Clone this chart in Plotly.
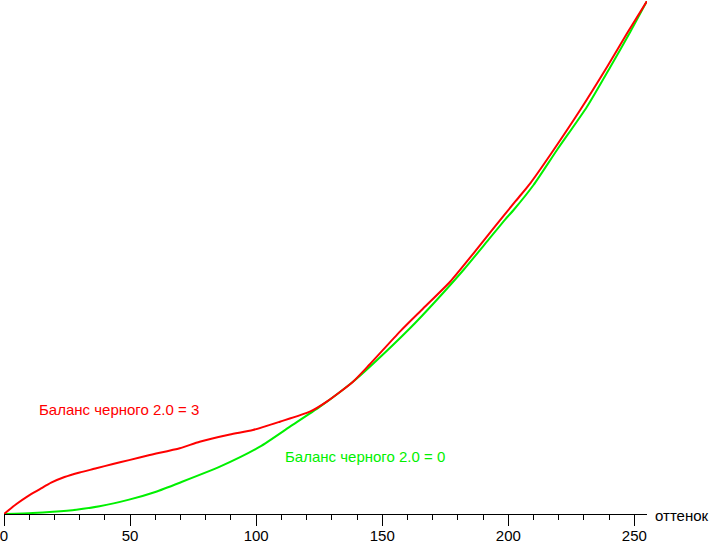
import plotly.graph_objects as go

# Red curve: "Баланс черного 2.0 = 3"
red_x = [0, 4.8, 9.5, 14.1, 18.7, 24.0, 30.0, 36.6, 43.2, 49.6, 57.8, 69.7, 77.6, 89.6,
         98.7, 109.4, 121.3, 128.0, 138.4, 145.1, 157.1, 166.3, 176.9, 186.2, 194.1, 202.7,
         208.7, 216.6, 228.5, 239.2, 247.1, 255]
red_y = [0, 1.9, 3.5, 4.8, 6.1, 7.2, 8.1, 8.9, 9.75, 10.5, 11.5, 12.81, 14.09, 15.5,
         16.37, 17.99, 19.94, 21.9, 25.79, 29.2, 35.6, 40.1, 45.28, 50.82, 55.69, 60.88,
         64.46, 69.98, 78.75, 87.19, 93.7, 100]

# Green curve: "Баланс черного 2.0 = 0"
green_x = [0, 11.4, 19.4, 28.7, 37.9, 49.6, 60.0, 69.7, 85.6, 101.5, 113.4, 125.3, 138.4, 145.1,
           161.0, 171.6, 182.2, 191.5, 198.8, 202.1, 210.0, 219.3, 231.2, 240.5, 248.4, 255]
green_y = [0, 0.2, 0.45, 0.85, 1.5, 2.8, 4.3, 6.1, 9.22, 13.12, 17.02, 20.92, 25.79, 28.71,
           36.2, 41.72, 47.56, 53.08, 57.45, 59.26, 64.13, 70.96, 79.4, 87.2, 94.0, 100]

tick_vals = [0, 50, 100, 150, 200, 250]
tick_text = ["0", "50", "100", "150", "200", "250"]

FONT = "Arial, Liberation Sans, sans-serif"
GREEN = "#00f000"
RED = "#ff0000"

fig = go.Figure()
fig.add_trace(go.Scatter(x=green_x, y=green_y, mode="lines",
                         line=dict(color=GREEN, width=2, shape="spline", smoothing=0.6),
                         showlegend=False, hoverinfo="skip"))
fig.add_trace(go.Scatter(x=red_x, y=red_y, mode="lines",
                         line=dict(color=RED, width=2, shape="spline", smoothing=0.6),
                         showlegend=False, hoverinfo="skip"))

fig.add_annotation(x=13.1, y=20.3, xref="x", yref="y", text="Баланс черного 2.0 = 3",
                   showarrow=False, xanchor="left", yanchor="middle",
                   font=dict(family=FONT, size=15, color=RED))
fig.add_annotation(x=110.5, y=11.3, xref="x", yref="y", text="Баланс черного 2.0 = 0",
                   showarrow=False, xanchor="left", yanchor="middle",
                   font=dict(family=FONT, size=15, color=GREEN))
fig.add_annotation(x=1, y=0, xref="paper", yref="paper", text="оттенок",
                   showarrow=False, xanchor="left", yanchor="middle", xshift=6, yshift=-1,
                   font=dict(family=FONT, size=15, color="#000000"))

fig.update_layout(
    width=712, height=542,
    margin=dict(l=4, r=65, t=1, b=28, autoexpand=False),
    paper_bgcolor="white", plot_bgcolor="white",
    font=dict(family=FONT, size=15, color="black"),
    xaxis=dict(range=[0, 255], showgrid=False, zeroline=False, showline=True,
               linecolor="black", linewidth=1, ticks="outside", ticklen=11,
               tickcolor="black", tickwidth=1, tickvals=tick_vals, ticktext=tick_text,
               automargin=False, ticklabeloverflow="allow", ticklabelstandoff=-3,
               tickfont=dict(family=FONT, size=15, color="black"),
               minor=dict(dtick=10, tick0=0, ticks="outside", ticklen=5,
                          tickcolor="black", tickwidth=1, showgrid=False)),
    yaxis=dict(range=[0, 100], visible=False, showgrid=False, zeroline=False),
)

fig.write_html("out.html", config={"displayModeBar": False},
               post_script="document.body.style.margin='0';document.body.style.padding='0';")
